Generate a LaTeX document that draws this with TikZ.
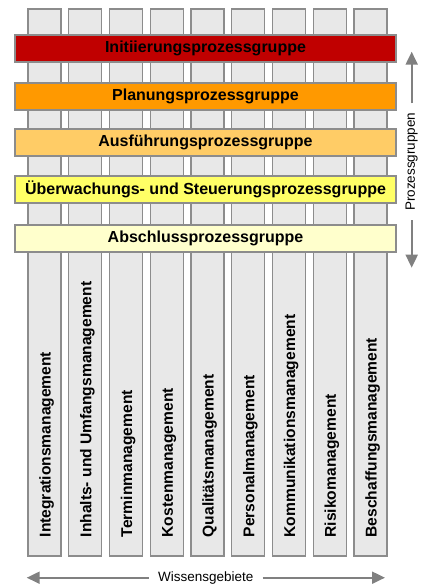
\documentclass[tikz,border=0pt]{standalone}
\usepackage{fontspec}
\setmainfont{Liberation Sans}
\usetikzlibrary{arrows.meta}
\definecolor{colfill}{HTML}{E8E8E8}
\definecolor{edgegray}{HTML}{8C8C8C}
\definecolor{arrgray}{HTML}{808080}
\definecolor{pgA}{HTML}{C00000}
\definecolor{pgB}{HTML}{FF9900}
\definecolor{pgC}{HTML}{FFCC66}
\definecolor{pgD}{HTML}{FFFF66}
\definecolor{pgE}{HTML}{FFFFCC}
\tikzset{
  colbox/.style={draw=edgegray, fill=colfill, line width=1.4pt, minimum width=33pt, minimum height=547pt, inner sep=0pt},
  coltext/.style={rotate=90, anchor=base west, inner sep=0pt, font=\fontsize{15.6}{18}\selectfont\bfseries},
  barbox/.style={draw=edgegray, line width=1.4pt, minimum width=381pt, minimum height=27pt, inner sep=0pt, font=\fontsize{16}{19}\selectfont\bfseries},
  axislabel/.style={inner xsep=9pt, inner ysep=0pt, font=\fontsize{13.5}{16}\selectfont},
  axisarrow/.style={draw=arrgray, line width=2pt, -{Triangle[length=13pt,width=12pt]}}
}
\begin{document}
\begin{tikzpicture}[x=1pt,y=-1pt]
\useasboundingbox (0,0) rectangle (427,584);
% columns
\foreach \i/\name/\txt in {0/c1/Integrationsmanagement,1/c2/{Inhalts- und Umfangsmanagement},2/c3/Terminmanagement,3/c4/Kostenmanagement,4/c5/Qualitätsmanagement,5/c6/Personalmanagement,6/c7/Kommunikationsmanagement,7/c8/Risikomanagement,8/c9/Beschaffungsmanagement}{
  \node[colbox] (\name) at ({44.5+40.75*\i},282.5) {};
  \node[coltext] (\name t) at ({50.7+40.75*\i},537.5) {\txt};
}
% process group bars
\node[barbox, fill=pgA] (b1) at (205.5,48.5) {Initiierungsprozessgruppe};
\node[barbox, fill=pgB] (b2) at (205.5,96.5) {Planungsprozessgruppe};
\node[barbox, fill=pgC] (b3) at (205.5,142.5) {Ausführungsprozessgruppe};
\node[barbox, fill=pgD] (b4) at (205.5,189.5) {Überwachungs- und Steuerungsprozessgruppe};
\node[barbox, fill=pgE] (b5) at (205.5,238.5) {Abschlussprozessgruppe};
% right axis
\node[axislabel, rotate=90] (pg) at (411.7,161.7) {Prozessgruppen};
\coordinate (pgtop) at (411.7,51.7);
\coordinate (pgbot) at (411.7,267.7);
\draw[axisarrow] (pg.east) -- (pgtop);
\draw[axisarrow] (pg.west) -- (pgbot);
% bottom axis
\node[axislabel] (wg) at (205.8,577.7) {Wissensgebiete};
\coordinate (wgleft) at (26.7,577.7);
\coordinate (wgright) at (385,577.7);
\draw[axisarrow] (wg.west) -- (wgleft);
\draw[axisarrow] (wg.east) -- (wgright);
\end{tikzpicture}
\end{document}
